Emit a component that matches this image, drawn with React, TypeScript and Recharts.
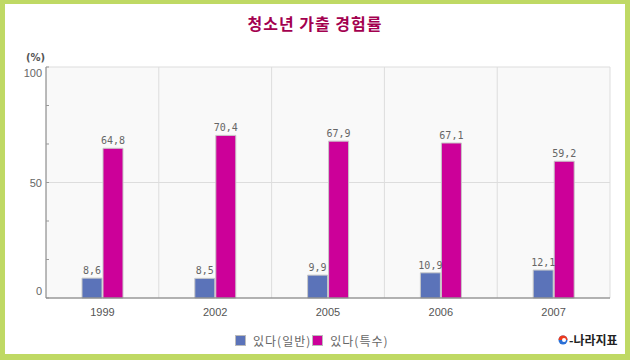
import { BarChart, Bar, XAxis, YAxis, CartesianGrid, LabelList } from 'recharts';

const years = ['1999', '2002', '2005', '2006', '2007'];
const general = [8.6, 8.5, 9.9, 10.9, 12.1];
const special = [64.8, 70.4, 67.9, 67.1, 59.2];
const yTicks = [0, 16.67, 33.33, 50, 66.67, 83.33, 100];
const yLabels = [0, 50, 100];
const gridY = [50, 100];

const data = years.map((year, i) => ({ year, general: general[i], special: special[i] }));

const comma = (v: unknown) => String(v).replace('.', ',');

// vertical grid lines sit on the category boundaries, not the centres
const categoryEdges = ({ offset }: any) =>
  years.map((_, i) => offset.left + (offset.width * (i + 1)) / years.length);

const YTick = (props: any) => {
  const { x, y, payload } = props;
  const v = payload.value;
  const show = yLabels.includes(v);
  const dy = v === 100 ? 6 : v === 0 ? -7 : 0;
  return (
    <g>
      <line x1={x + 4} x2={x + 7} y1={y} y2={y} stroke="#999" />
      {show && (
        <text
          x={x}
          y={y + dy}
          textAnchor="end"
          dominantBaseline="central"
          fill="#666"
          fontSize={11}
          fontFamily="Liberation Sans"
        >
          {v}
        </text>
      )}
    </g>
  );
};

export default function App() {
  return (
    <div style={{ position: 'absolute', left: 0, top: 0, width: 630, height: 360, background: '#bfd964' }}>
      <div style={{ position: 'absolute', left: 5, top: 4, width: 620, height: 350, background: '#fff' }} />
      <div
        style={{
          position: 'absolute',
          left: 0,
          top: 11,
          width: 630,
          textAlign: 'center',
          fontFamily: '"Noto Sans CJK KR"',
          fontSize: 16,
          fontWeight: 'bold',
          letterSpacing: 1,
          color: '#a3004f',
        }}
      >
        청소년 가출 경험률
      </div>
      <div
        style={{
          position: 'absolute',
          left: 26,
          top: 52,
          fontFamily: '"DejaVu Sans"',
          fontSize: 10,
          fontWeight: 'bold',
          color: '#555',
        }}
      >
        (%)
      </div>
      <div style={{ position: 'absolute', left: 0, top: 0 }}>
        <BarChart
          width={630}
          height={360}
          data={data}
          margin={{ top: 67, right: 20, left: 0, bottom: 42 }}
          barSize={20}
          barGap={1}
        >
          <CartesianGrid
            yAxisId="grid"
            fill="#f9f9f9"
            stroke="#dddddd"
            verticalCoordinatesGenerator={categoryEdges}
          />
          <YAxis yAxisId="grid" type="number" domain={[0, 100]} ticks={gridY} allowDataOverflow hide />
          <XAxis
            dataKey="year"
            height={20}
            tickLine={false}
            axisLine={{ stroke: '#777' }}
            tick={{ fill: '#555', fontSize: 11, fontFamily: 'Liberation Sans' }}
            tickMargin={4}
          />
          <YAxis
            width={46}
            domain={[0, 100]}
            ticks={yTicks}
            interval={0}
            tickLine={false}
            tickSize={0}
            tickMargin={4}
            axisLine={{ stroke: '#777' }}
            tick={<YTick />}
          />
          <Bar dataKey="general" fill="#5b73b9" stroke="#c8c8c8" isAnimationActive={false}>
            <LabelList
              dataKey="general"
              position="top"
              offset={4}
              formatter={comma}
              fill="#666"
              fontSize={10}
              fontFamily="DejaVu Sans Mono"
            />
          </Bar>
          <Bar dataKey="special" fill="#cc0099" stroke="#c8c8c8" isAnimationActive={false}>
            <LabelList
              dataKey="special"
              position="top"
              offset={4}
              formatter={comma}
              fill="#666"
              fontSize={10}
              fontFamily="DejaVu Sans Mono"
            />
          </Bar>
        </BarChart>
      </div>
      <div
        style={{
          position: 'absolute',
          left: 235,
          top: 332,
          display: 'flex',
          alignItems: 'center',
          fontFamily: '"Noto Sans CJK KR"',
          fontSize: 12,
          letterSpacing: 1,
          color: '#666',
        }}
      >
        <span style={{ width: 9, height: 9, background: '#5b73b9', border: '1px solid #bbb', marginRight: 7 }} />
        <span style={{ marginRight: 1 }}>있다(일반)</span>
        <span style={{ width: 9, height: 9, background: '#cc0099', border: '1px solid #bbb', marginRight: 7 }} />
        <span>있다(특수)</span>
      </div>
      <div
        style={{
          position: 'absolute',
          left: 558,
          top: 331,
          display: 'flex',
          alignItems: 'center',
          fontFamily: '"Noto Sans CJK KR"',
          fontSize: 12,
          fontWeight: 'bold',
          color: '#222',
        }}
      >
        <svg width={10} height={12} style={{ marginRight: 1 }}>
          <circle cx={5} cy={6} r={4.5} fill="#2a6fd6" />
          <path d="M0.5 6 A4.5 4.5 0 0 1 9.5 6 Z" fill="#ee3a1c" />
          <circle cx={6} cy={6} r={2} fill="#fff" />
        </svg>
        <span>-나라지표</span>
      </div>
    </div>
  );
}
